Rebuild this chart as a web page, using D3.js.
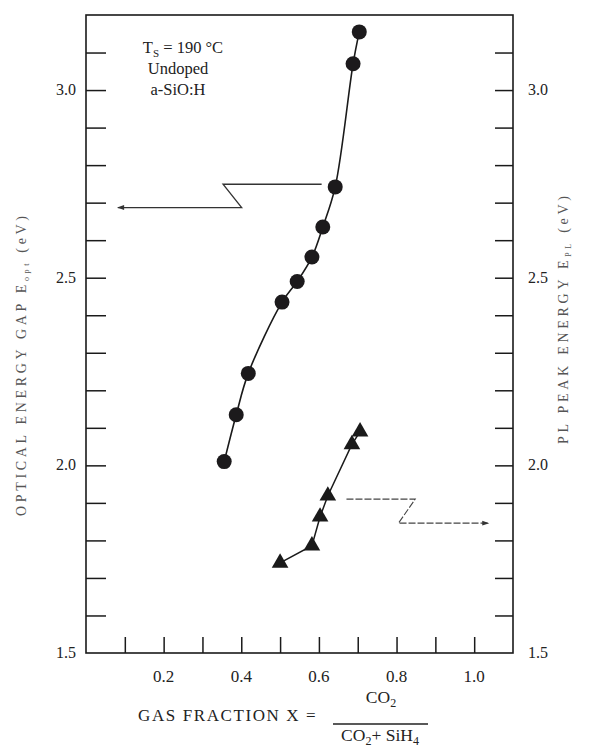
<!DOCTYPE html>
<html>
<head>
<meta charset="utf-8">
<script src="https://cdn.jsdelivr.net/npm/d3@7/dist/d3.min.js"></script>
<style>
  html, body { margin: 0; padding: 0; background: #fff; }
  svg { display: block; }
  text { font-family: "Liberation Serif", "Times New Roman", serif; fill: #222; }
</style>
</head>
<body>
<svg id="chart" width="589" height="748"></svg>
<script>
// optical gap (circles)
const gapX = [0.356, 0.387, 0.418, 0.505, 0.544, 0.582, 0.610, 0.642, 0.688, 0.704];
const gapY = [2.01, 2.135, 2.245, 2.435, 2.49, 2.555, 2.635, 2.742, 3.07, 3.155];
// PL peak energy (triangles)
const plX = [0.50, 0.582, 0.603, 0.623, 0.685, 0.706];
const plY = [1.74, 1.786, 1.863, 1.919, 2.056, 2.09];

const xTicks = [0.1, 0.2, 0.3, 0.4, 0.5, 0.6, 0.7, 0.8, 0.9, 1.0];
const xLabels = [0.2, 0.4, 0.6, 0.8, 1.0];
const yTicks = d3.range(16, 32).map(d => d / 10);
const yLabels = [1.5, 2.0, 2.5, 3.0];

// arrow paths in data units
const gapArrow = [[0.607, 2.749], [0.353, 2.749], [0.401, 2.687], [0.082, 2.687]];
const plArrow = [[0.671, 1.910], [0.848, 1.910], [0.805, 1.846], [1.037, 1.846]];

const svg = d3.select("#chart");
const x = d3.scaleLinear().domain([0, 1.1]).range([86, 513]);
const y = d3.scaleLinear().domain([1.5, 3.2]).range([653, 15]);

svg.append("defs").append("marker")
  .attr("id", "head")
  .attr("viewBox", "0 0 10 10")
  .attr("refX", 9).attr("refY", 5)
  .attr("markerWidth", 12).attr("markerHeight", 7)
  .attr("markerUnits", "userSpaceOnUse")
  .attr("orient", "auto")
  .append("path")
  .attr("d", "M0,1.5L10,5L0,8.5Z")
  .attr("fill", "#333");

// frame
svg.append("rect")
  .attr("x", x(0)).attr("y", y(3.2))
  .attr("width", x(1.1) - x(0)).attr("height", y(1.5) - y(3.2))
  .attr("fill", "none").attr("stroke", "#1a1a1a").attr("stroke-width", 1.6);

// inward ticks
const tickStyle = g => {
  g.select(".domain").remove();
  g.selectAll(".tick line").attr("stroke", "#1a1a1a").attr("stroke-width", 1.5);
  g.selectAll(".tick text").remove();
};
svg.append("g").attr("transform", `translate(${x(0)},0)`)
  .call(d3.axisRight(y).tickValues(yTicks).tickSize(20)).call(tickStyle);
svg.append("g").attr("transform", `translate(${x(1.1)},0)`)
  .call(d3.axisLeft(y).tickValues(yTicks).tickSize(18)).call(tickStyle);
svg.append("g").attr("transform", `translate(0,${y(1.5)})`)
  .call(d3.axisTop(x).tickValues(xTicks).tickSize(16)).call(tickStyle);

// tick labels
svg.selectAll("text.yl").data(yLabels).join("text")
  .attr("class", "yl")
  .attr("x", 76).attr("y", d => y(d) + 5)
  .attr("text-anchor", "end").attr("font-size", 16)
  .text(d => d.toFixed(1));
svg.selectAll("text.yr").data(yLabels).join("text")
  .attr("class", "yr")
  .attr("x", 528).attr("y", d => y(d) + 5)
  .attr("text-anchor", "start").attr("font-size", 16)
  .text(d => d.toFixed(1));
svg.selectAll("text.xl").data(xLabels).join("text")
  .attr("class", "xl")
  .attr("x", d => x(d)).attr("y", 682)
  .attr("text-anchor", "middle").attr("font-size", 17)
  .text(d => d.toFixed(1));

// axis titles
const leftTitle = svg.append("text")
  .attr("transform", "translate(26,366) rotate(-90)")
  .attr("text-anchor", "middle").attr("font-size", 14)
  .attr("textLength", 300).attr("lengthAdjust", "spacing")
  .style("fill", "#555");
leftTitle.append("tspan").text("OPTICAL ENERGY GAP E");
leftTitle.append("tspan").attr("font-size", 8).attr("dy", 3).text("opt");
leftTitle.append("tspan").attr("dy", -3).text(" (eV)");

const rightTitle = svg.append("text")
  .attr("transform", "translate(568,320) rotate(-90)")
  .attr("text-anchor", "middle").attr("font-size", 14)
  .attr("textLength", 248).attr("lengthAdjust", "spacing")
  .style("fill", "#555");
rightTitle.append("tspan").text("PL PEAK ENERGY E");
rightTitle.append("tspan").attr("font-size", 8).attr("dy", 3).text("PL");
rightTitle.append("tspan").attr("dy", -3).text(" (eV)");

svg.append("text").attr("x", 138).attr("y", 721)
  .attr("font-size", 17).attr("letter-spacing", 1.6)
  .text("GAS FRACTION X  =");
const num = svg.append("text").attr("x", 381).attr("y", 703)
  .attr("text-anchor", "middle").attr("font-size", 17.5);
num.append("tspan").text("CO");
num.append("tspan").attr("font-size", 12).attr("dy", 4).text("2");
svg.append("line")
  .attr("x1", 333).attr("x2", 428).attr("y1", 724).attr("y2", 724)
  .attr("stroke", "#222").attr("stroke-width", 1.3);
const den = svg.append("text").attr("x", 380).attr("y", 741)
  .attr("text-anchor", "middle").attr("font-size", 17.5);
den.append("tspan").text("CO");
den.append("tspan").attr("font-size", 12).attr("dy", 4).text("2");
den.append("tspan").attr("dy", -4).text("+ SiH");
den.append("tspan").attr("font-size", 12).attr("dy", 4).text("4");

// annotation
const ann = svg.append("g").attr("font-size", 16.5).attr("text-anchor", "middle");
const t1 = ann.append("text").attr("x", 183).attr("y", 53);
t1.append("tspan").text("T");
t1.append("tspan").attr("font-size", 11).attr("dy", 4).text("S");
t1.append("tspan").attr("dy", -4).text(" = 190 °C");
ann.append("text").attr("x", 178).attr("y", 74).text("Undoped");
ann.append("text").attr("x", 178).attr("y", 95).text("a-SiO:H");

// arrows
const arrowLine = d3.line().x(d => x(d[0])).y(d => y(d[1]));
svg.append("path").attr("d", arrowLine(gapArrow))
  .attr("fill", "none").attr("stroke", "#333").attr("stroke-width", 1.3)
  .attr("marker-end", "url(#head)");
svg.append("path").attr("d", arrowLine(plArrow))
  .attr("fill", "none").attr("stroke", "#444").attr("stroke-width", 1.1)
  .attr("stroke-dasharray", "7,2")
  .attr("marker-end", "url(#head)");

// optical gap curve + circles
const gapPts = gapX.map((v, i) => [v, gapY[i]]);
svg.append("path")
  .attr("d", d3.line().x(d => x(d[0])).y(d => y(d[1])).curve(d3.curveCatmullRom)(gapPts))
  .attr("fill", "none").attr("stroke", "#1a1a1a").attr("stroke-width", 1.6);
svg.selectAll("circle.gap").data(gapPts).join("circle")
  .attr("class", "gap")
  .attr("cx", d => x(d[0])).attr("cy", d => y(d[1]))
  .attr("r", 7.5).attr("fill", "#1c1a1c");

// PL line + triangles
const plPts = plX.map((v, i) => [v, plY[i]]);
svg.append("path")
  .attr("d", d3.line().x(d => x(d[0])).y(d => y(d[1]))(plPts))
  .attr("fill", "none").attr("stroke", "#1a1a1a").attr("stroke-width", 1.5);
svg.selectAll("path.pl").data(plPts).join("path")
  .attr("class", "pl")
  .attr("transform", d => `translate(${x(d[0])},${y(d[1])})`)
  .attr("d", d3.symbol(d3.symbolTriangle, 120))
  .attr("fill", "#1a1a1a");
</script>
</body>
</html>
